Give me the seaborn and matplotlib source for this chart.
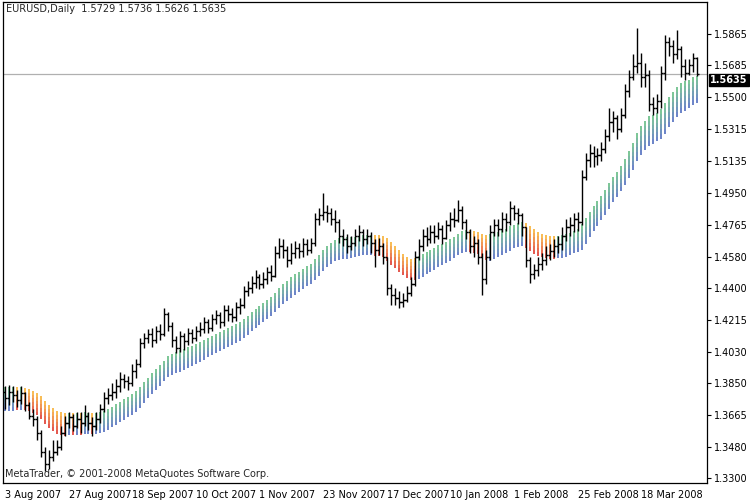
import numpy as np
import pandas as pd
import matplotlib
matplotlib.use("Agg")
import matplotlib.pyplot as plt
import seaborn as sns
from matplotlib.collections import LineCollection

close = [1.3760,1.3800,1.3780,1.3750,1.3790,1.3720,1.3660,1.3640,1.3560,1.3450,
1.3380,1.3420,1.3450,1.3480,1.3560,1.3620,1.3650,1.3600,1.3640,1.3620,
1.3660,1.3620,1.3600,1.3640,1.3700,1.3760,1.3780,1.3800,1.3830,1.3870,
1.3860,1.3850,1.3920,1.3960,1.4080,1.4110,1.4130,1.4100,1.4150,1.4130,
1.4250,1.4180,1.4100,1.4050,1.4120,1.4090,1.4140,1.4110,1.4150,1.4160,
1.4200,1.4170,1.4220,1.4240,1.4200,1.4270,1.4250,1.4230,1.4290,1.4300,
1.4380,1.4400,1.4430,1.4460,1.4420,1.4450,1.4490,1.4470,1.4600,1.4640,
1.4620,1.4560,1.4600,1.4630,1.4610,1.4650,1.4620,1.4660,1.4800,1.4820,
1.4840,1.4830,1.4800,1.4780,1.4700,1.4680,1.4640,1.4660,1.4700,1.4720,
1.4680,1.4700,1.4660,1.4620,1.4640,1.4580,1.4400,1.4360,1.4340,1.4320,
1.4330,1.4370,1.4420,1.4580,1.4640,1.4700,1.4680,1.4720,1.4700,1.4740,
1.4690,1.4760,1.4800,1.4790,1.4850,1.4780,1.4720,1.4640,1.4660,1.4580,
1.4450,1.4580,1.4720,1.4760,1.4740,1.4800,1.4780,1.4860,1.4830,1.4820,
1.4750,1.4560,1.4480,1.4500,1.4540,1.4560,1.4590,1.4610,1.4640,1.4650,
1.4700,1.4750,1.4760,1.4800,1.4780,1.5040,1.5140,1.5180,1.5160,1.5170,
1.5200,1.5280,1.5360,1.5380,1.5320,1.5400,1.5540,1.5620,1.5680,1.5700,
1.5620,1.5630,1.5460,1.5440,1.5480,1.5640,1.5820,1.5800,1.5750,1.5780,
1.5680,1.5640,1.5690,1.5729,1.5635]
high = [1.3830,1.3840,1.3830,1.3810,1.3830,1.3800,1.3740,1.3700,1.3660,1.3580,
1.3480,1.3460,1.3520,1.3520,1.3600,1.3660,1.3680,1.3670,1.3680,1.3680,
1.3720,1.3680,1.3650,1.3680,1.3730,1.3800,1.3820,1.3850,1.3870,1.3910,
1.3900,1.3890,1.3960,1.3990,1.4110,1.4140,1.4160,1.4170,1.4180,1.4190,
1.4280,1.4260,1.4200,1.4120,1.4150,1.4140,1.4170,1.4160,1.4180,1.4200,
1.4230,1.4220,1.4250,1.4270,1.4260,1.4300,1.4300,1.4280,1.4320,1.4340,
1.4410,1.4440,1.4470,1.4500,1.4480,1.4490,1.4520,1.4530,1.4640,1.4690,
1.4680,1.4640,1.4660,1.4670,1.4660,1.4690,1.4680,1.4690,1.4830,1.4860,
1.4950,1.4880,1.4860,1.4850,1.4800,1.4740,1.4710,1.4700,1.4740,1.4760,
1.4740,1.4740,1.4720,1.4680,1.4690,1.4660,1.4580,1.4420,1.4400,1.4380,
1.4370,1.4410,1.4460,1.4610,1.4680,1.4740,1.4750,1.4760,1.4760,1.4780,
1.4760,1.4790,1.4840,1.4860,1.4910,1.4870,1.4800,1.4740,1.4700,1.4680,
1.4600,1.4620,1.4760,1.4800,1.4800,1.4840,1.4830,1.4900,1.4880,1.4860,
1.4830,1.4750,1.4580,1.4540,1.4580,1.4600,1.4640,1.4650,1.4680,1.4700,
1.4750,1.4800,1.4810,1.4830,1.4840,1.5080,1.5180,1.5230,1.5220,1.5210,
1.5240,1.5320,1.5440,1.5420,1.5400,1.5440,1.5580,1.5660,1.5750,1.5900,
1.5760,1.5700,1.5660,1.5500,1.5520,1.5680,1.5860,1.5850,1.5830,1.5890,
1.5800,1.5720,1.5720,1.5760,1.5736]
low = [1.3700,1.3720,1.3740,1.3710,1.3730,1.3690,1.3640,1.3600,1.3520,1.3420,
1.3340,1.3350,1.3400,1.3430,1.3460,1.3540,1.3590,1.3570,1.3590,1.3560,
1.3600,1.3580,1.3540,1.3580,1.3620,1.3680,1.3730,1.3750,1.3760,1.3800,
1.3820,1.3810,1.3830,1.3880,1.3940,1.4050,1.4080,1.4060,1.4080,1.4100,
1.4120,1.4150,1.4060,1.4020,1.4030,1.4040,1.4070,1.4080,1.4090,1.4120,
1.4140,1.4140,1.4150,1.4190,1.4170,1.4180,1.4210,1.4200,1.4210,1.4250,
1.4280,1.4350,1.4370,1.4400,1.4390,1.4400,1.4420,1.4440,1.4460,1.4570,
1.4570,1.4520,1.4540,1.4570,1.4570,1.4580,1.4590,1.4600,1.4640,1.4760,
1.4790,1.4780,1.4760,1.4720,1.4660,1.4640,1.4600,1.4620,1.4640,1.4670,
1.4640,1.4650,1.4600,1.4520,1.4590,1.4540,1.4360,1.4300,1.4300,1.4280,
1.4290,1.4320,1.4350,1.4410,1.4560,1.4610,1.4640,1.4660,1.4660,1.4680,
1.4650,1.4680,1.4730,1.4750,1.4780,1.4740,1.4680,1.4600,1.4580,1.4540,
1.4360,1.4420,1.4560,1.4700,1.4700,1.4720,1.4730,1.4760,1.4790,1.4770,
1.4700,1.4520,1.4430,1.4450,1.4470,1.4500,1.4530,1.4560,1.4580,1.4600,
1.4620,1.4670,1.4700,1.4720,1.4730,1.4760,1.5020,1.5100,1.5100,1.5110,
1.5130,1.5180,1.5250,1.5300,1.5260,1.5300,1.5380,1.5500,1.5600,1.5640,
1.5560,1.5560,1.5420,1.5400,1.5410,1.5440,1.5600,1.5740,1.5700,1.5720,
1.5620,1.5600,1.5630,1.5650,1.5626]
first_open = 1.3800
date_labels = ["3 Aug 2007","27 Aug 2007","18 Sep 2007","10 Oct 2007","1 Nov 2007",
               "23 Nov 2007","17 Dec 2007","10 Jan 2008","1 Feb 2008","25 Feb 2008","18 Mar 2008"]
date_index = [0,16,32,48,64,80,96,112,128,144,160]
price_ticks = [1.3300,1.3480,1.3665,1.3850,1.4030,1.4215,1.4400,1.4580,1.4765,
               1.4950,1.5135,1.5315,1.5500,1.5685,1.5865]

sns.set_style("white")
plt.rcParams['font.family'] = ['DejaVu Sans']

df = pd.DataFrame({"close": close, "high": high, "low": low})
df["open"] = df["close"].shift(1).fillna(first_open)
n = len(df)
x = np.arange(n)

# indicator band (smoothed high/low)
top = df["high"].ewm(span=22, adjust=False).mean().values - 0.0005
bot = df["low"].ewm(span=22, adjust=False).mean().values - 0.0015
mid = (top + bot) / 2
rising = np.r_[True, np.diff(mid) >= 0]

fig = plt.figure(figsize=(7.5, 5), dpi=100)
ax = fig.add_axes([0.004, 0.034, 0.939, 0.962])
ax.set_facecolor("white")

segs, cols = [], []
up_top, up_bot = np.array([0.35, 0.75, 0.45]), np.array([0.25, 0.35, 0.75])
dn_top, dn_bot = np.array([0.98, 0.72, 0.15]), np.array([0.85, 0.10, 0.10])
k = 6
for i in range(n):
    t_c, b_c = (up_top, up_bot) if rising[i] else (dn_top, dn_bot)
    for j in range(k):
        y0 = bot[i] + (top[i] - bot[i]) * j / k
        y1 = bot[i] + (top[i] - bot[i]) * (j + 1) / k
        f = (j + 0.5) / k
        segs.append([(x[i], y0), (x[i], y1)])
        cols.append(b_c * (1 - f) + t_c * f)
ax.add_collection(LineCollection(segs, colors=cols, linewidths=1.1))

ax.vlines(x, df["low"], df["high"], color="black", lw=1.0)
ax.hlines(df["open"], x - 0.55, x, color="black", lw=1.0)
ax.hlines(df["close"], x, x + 0.55, color="black", lw=1.0)

last = close[-1]
ax.axhline(last, color="#b0b0b0", lw=0.9, zorder=0)

ax.set_xlim(-0.5, n + 1.6)
ax.set_ylim(1.3271, 1.6052)
ax.yaxis.tick_right()
ax.set_yticks(price_ticks)
ax.set_yticklabels([f"{v:.4f}" for v in price_ticks], fontsize=7)
ax.set_xticks(date_index)
ax.set_xticklabels(date_labels, fontsize=7, ha="left")
ax.tick_params(axis="both", length=3, width=0.8, color="black", labelcolor="black",
               direction="out", pad=2)
for s in ax.spines.values():
    s.set_color("black"); s.set_linewidth(0.9)
ax.text(0.004, 0.995, f"EURUSD,Daily  {df['open'].iloc[-1]:.4f} {high[-1]:.4f} {low[-1]:.4f} {last:.4f}",
        transform=ax.transAxes, fontsize=7, va="top", ha="left")
ax.text(0.003, 0.008, "MetaTrader, © 2001-2008 MetaQuotes Software Corp.",
        transform=ax.transAxes, fontsize=7, va="bottom", ha="left")
ax.text(1.004, last - 0.0005, f"{last:.4f}", transform=ax.get_yaxis_transform(), fontsize=7,
        color="white", va="top", ha="left", fontweight="bold",
        bbox=dict(boxstyle="square,pad=0.12", fc="black", ec="black"))
fig.savefig("out.png", dpi=100)
